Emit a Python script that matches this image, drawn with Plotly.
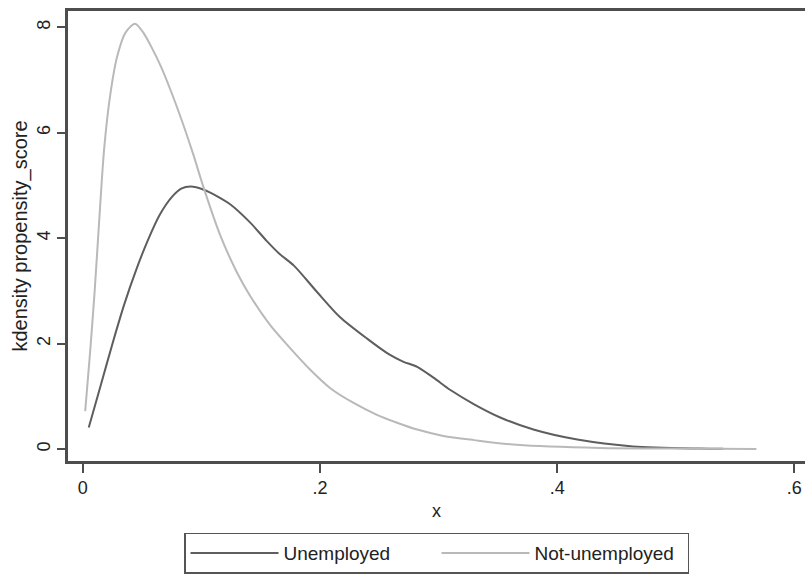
import plotly.graph_objects as go

# Kernel density of propensity score
unemp_x = [0.005, 0.015, 0.025, 0.035, 0.045, 0.055, 0.065, 0.075, 0.083, 0.091, 0.102,
           0.113, 0.1245, 0.141, 0.155, 0.166, 0.178, 0.1975, 0.217, 0.24, 0.258, 0.27,
           0.282, 0.296, 0.31, 0.33, 0.352, 0.38, 0.417, 0.464, 0.52, 0.54]
unemp_y = [0.41, 1.2, 2.0, 2.75, 3.4, 3.97, 4.45, 4.78, 4.94, 4.98, 4.92,
           4.8, 4.64, 4.3, 3.95, 3.7, 3.48, 2.98, 2.5, 2.09, 1.8, 1.66,
           1.56, 1.35, 1.12, 0.85, 0.6, 0.37, 0.18, 0.05, 0.01, 0.005]

notunemp_x = [0.002, 0.006, 0.010, 0.014, 0.018, 0.023, 0.029, 0.036, 0.044, 0.051,
              0.058, 0.066, 0.075, 0.084, 0.093, 0.102, 0.116, 0.13, 0.141, 0.158,
              0.175, 0.192, 0.209, 0.228, 0.248, 0.265, 0.282, 0.304, 0.33, 0.366,
              0.436, 0.5, 0.568]
notunemp_y = [0.72, 1.8, 3.0, 4.4, 5.7, 6.7, 7.45, 7.9, 8.07, 7.9,
              7.62, 7.25, 6.75, 6.2, 5.6, 4.95, 4.05, 3.35, 2.91, 2.35,
              1.91, 1.5, 1.15, 0.88, 0.65, 0.5, 0.37, 0.25, 0.17, 0.08,
              0.02, 0.01, 0.0]

x_ticks = [0, 0.2, 0.4, 0.6]
x_labels = ["0", ".2", ".4", ".6"]
y_ticks = [0, 2, 4, 6, 8]
y_labels = ["0", "2", "4", "6", "8"]

FONT = "Liberation Sans, Arial, sans-serif"
AX = "#4d4d4d"

fig = go.Figure()
fig.add_trace(go.Scatter(x=unemp_x, y=unemp_y, mode="lines", name="Unemployed",
                         line=dict(color="#5e5e5e", width=2, shape="spline", smoothing=0.8)))
fig.add_trace(go.Scatter(x=notunemp_x, y=notunemp_y, mode="lines", name="Not-unemployed",
                         line=dict(color="#b9b9b9", width=2, shape="spline", smoothing=0.8)))

fig.update_layout(
    width=805, height=574,
    margin=dict(l=68, r=0, t=11, b=111),
    paper_bgcolor="white", plot_bgcolor="white",
    font=dict(family=FONT, size=18, color="#222"),
    showlegend=True,
    legend=dict(orientation="h", x=0.5, xanchor="center", y=-0.159, yanchor="top",
                bordercolor="#555", borderwidth=1.5, font=dict(size=19, color="#222"),
                entrywidth=148, itemwidth=88, bgcolor="white"),
)
fig.update_xaxes(range=[-0.0125, 0.609], tickvals=x_ticks, ticktext=x_labels,
                 showgrid=False, zeroline=False, showline=True, linecolor=AX, linewidth=2.5,
                 mirror=True, ticks="outside", ticklen=9, tickwidth=1.5, tickcolor=AX,
                 title=dict(text="x", font=dict(size=18), standoff=8))
fig.update_yaxes(range=[-0.226, 8.31], tickvals=y_ticks, ticktext=y_labels, tickangle=-90,
                 showgrid=False, zeroline=False, showline=True, linecolor=AX, linewidth=2.5,
                 ticks="outside", ticklen=8, tickwidth=1.5, tickcolor=AX,
                 title=dict(text="kdensity propensity_score", font=dict(size=20), standoff=2))

fig.write_html("out.html")
